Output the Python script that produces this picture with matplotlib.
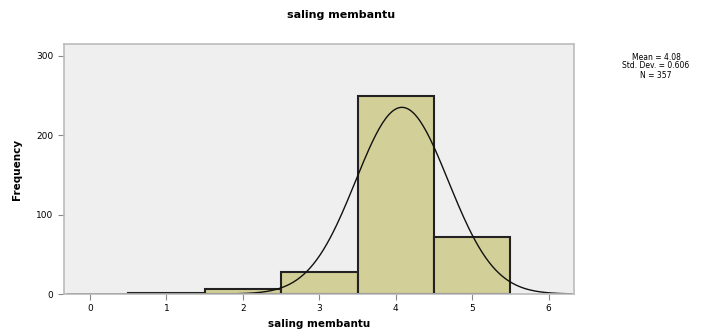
import numpy as np
import matplotlib
matplotlib.use("Agg")
import matplotlib.pyplot as plt

# histogram counts per score (bins centred on integers)
scores = [1, 2, 3, 4, 5]
counts = [1, 6, 28, 250, 72]
x_ticks = [0, 1, 2, 3, 4, 5, 6]
y_ticks = [0, 100, 200, 300]

vals = np.repeat(scores, counts)
n = len(vals)
mean = vals.mean()
sd = vals.std(ddof=1)

fig = plt.figure(figsize=(7.13, 3.30), dpi=100)
ax = fig.add_axes([0.0898, 0.109, 0.715, 0.758])
ax.set_facecolor('#efefef')

ax.bar(scores, counts, width=1.0, color='#d3cf98', edgecolor='#222222', linewidth=1.5)

xs = np.linspace(-0.3, 6.3, 300)
ys = n * 1.0 / (sd * np.sqrt(2 * np.pi)) * np.exp(-0.5 * ((xs - mean) / sd) ** 2)
ax.plot(xs, ys, color='#111111', linewidth=1.0)

ax.set_xlim(-0.34, 6.33)
ax.set_ylim(0, 315)
ax.set_xticks(x_ticks)
ax.set_yticks(y_ticks)
ax.tick_params(labelsize=6.5, length=4, color='#888888')
for s in ax.spines.values():
    s.set_color('#bbbbbb')
    s.set_linewidth(1.2)

ax.set_xlabel('saling membantu', fontsize=7.5, fontweight='bold')
ax.set_ylabel('Frequency', fontsize=7.5, fontweight='bold', labelpad=10)
fig.text(0.478, 0.955, 'saling membantu', ha='center', va='center',
         fontsize=8, fontweight='bold')

fig.text(0.92, 0.80,
         f'Mean = {mean:.2f}\nStd. Dev. = {sd:.3f}\nN = {n}',
         ha='center', va='center', fontsize=5.5, linespacing=1.0)

fig.savefig('out.png', dpi=100)
